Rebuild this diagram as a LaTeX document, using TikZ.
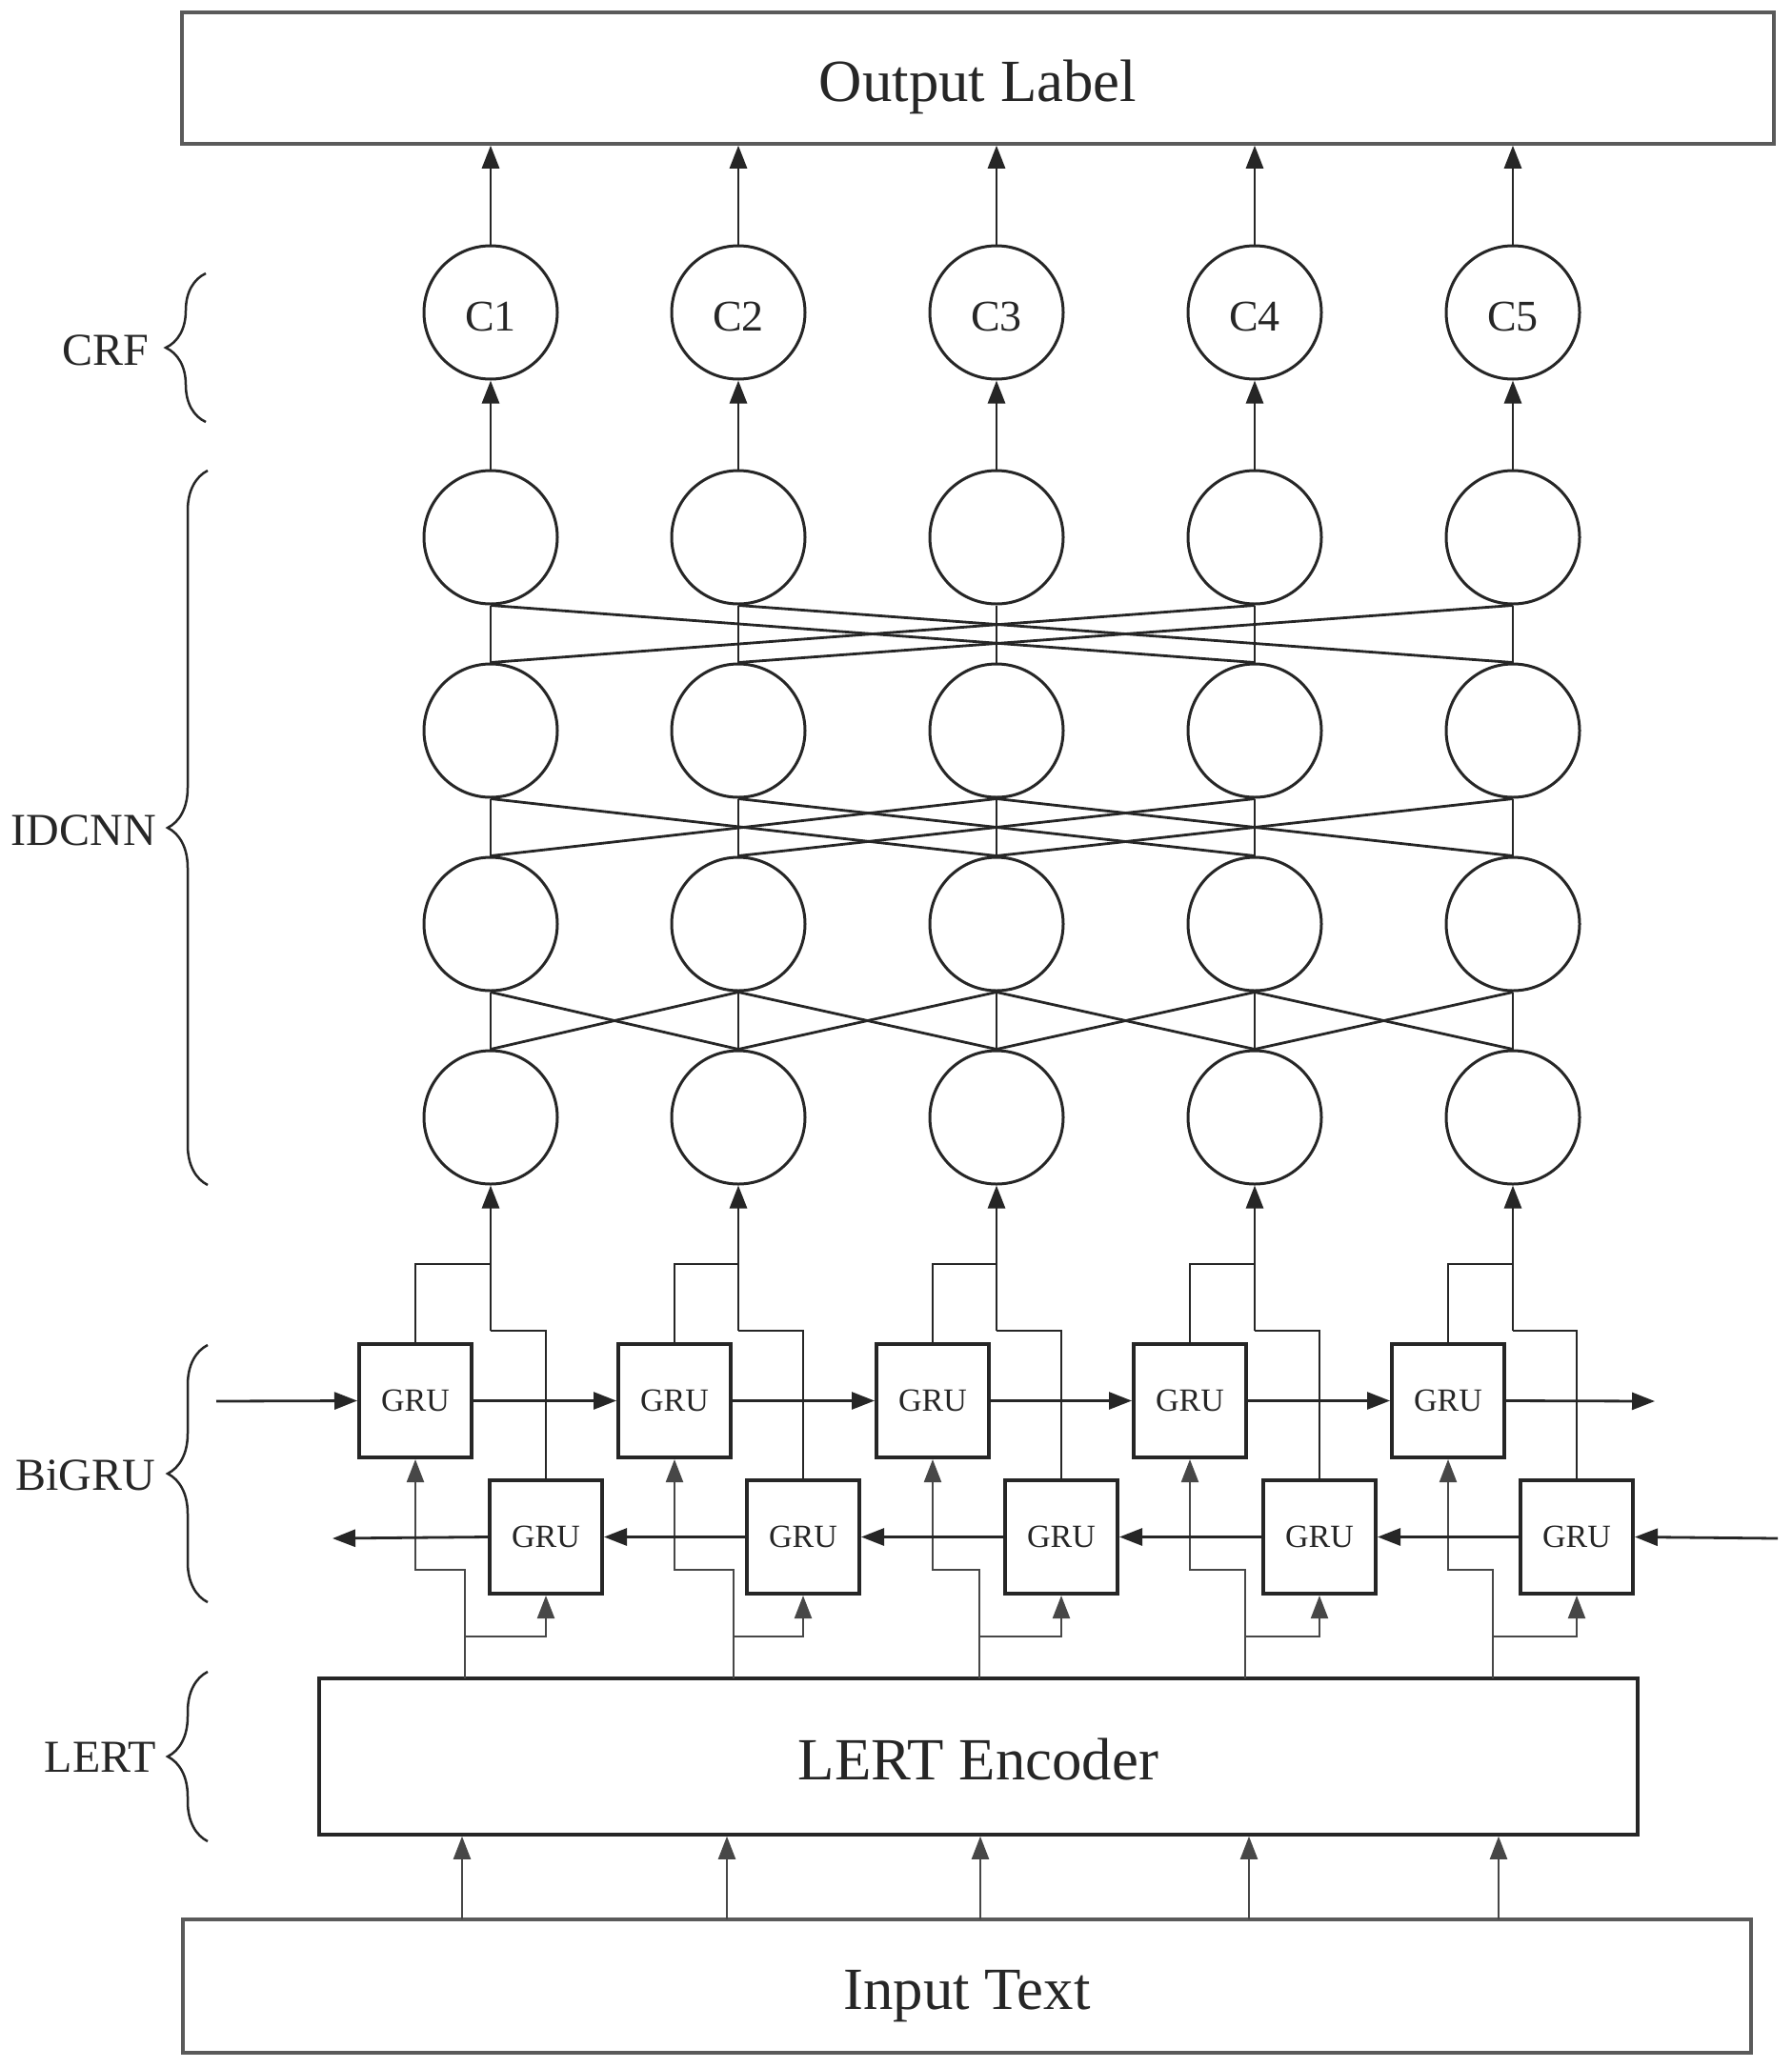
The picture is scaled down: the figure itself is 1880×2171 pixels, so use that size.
\documentclass[tikz,border=0pt]{standalone}
\usepackage{fontspec}
\setmainfont{Liberation Serif}
\usetikzlibrary{arrows.meta,decorations.pathreplacing}
\definecolor{ln}{HTML}{262626}
\definecolor{bx}{HTML}{5A5A5A}
\begin{document}
\begin{tikzpicture}[x=1pt,y=-1pt,
  bigbox/.style={draw=bx, line width=3.5pt, inner sep=0pt, text=ln, text height=49pt, text depth=0pt, font=\fontsize{62.8}{70}\selectfont},
  lertbox/.style={draw=ln, line width=3.5pt, inner sep=0pt, text=ln, text height=49pt, text depth=0pt, font=\fontsize{62.8}{70}\selectfont},
  neuron/.style={circle, draw=ln, line width=3pt, minimum size=140pt, inner sep=0pt, text=ln, text height=38pt, text depth=0pt, font=\fontsize{46}{50}\selectfont},
  grubox/.style={draw=ln, line width=4pt, minimum width=118pt, minimum height=119pt, inner sep=0pt, text=ln, font=\fontsize{34}{40}\selectfont},
  conn/.style={draw=ln, line width=2.8pt},
  arr/.style={conn, -{Triangle[length=24pt,width=18pt]}},
  thinarr/.style={draw=ln!85!white, line width=2.2pt, -{Triangle[length=24pt,width=18pt]}},
  brc/.style={draw=ln, line width=2.5pt, decorate, decoration={brace, amplitude=42pt}},
  side/.style={anchor=east, inner sep=0pt, text=ln, font=\fontsize{48}{54}\selectfont}
]
\useasboundingbox (0,0) rectangle (1880,2171);

% big boxes
\node[bigbox, minimum width=1671pt, minimum height=138pt] (out) at (1026.5,82) {Output Label};
\node[lertbox, minimum width=1384pt, minimum height=164pt] (lert) at (1027,1844) {LERT Encoder};
\node[bigbox, minimum width=1646pt, minimum height=140pt] (inp) at (1015,2085) {Input Text};

% columns
\foreach \i/\x/\ux/\lx/\px/\ix in {1/515/436/573/488/485, 2/775/708/843/770/763, 3/1046/979/1114/1028/1029, 4/1317/1249/1385/1307/1311, 5/1588/1520/1655/1567/1573}{
  \node[neuron] (c\i) at (\x,328) {C\i};
  \node[neuron] (r1c\i) at (\x,564) {};
  \node[neuron] (r2c\i) at (\x,767) {};
  \node[neuron] (r3c\i) at (\x,970) {};
  \node[neuron] (r4c\i) at (\x,1173) {};
  \draw[arr] (c\i.north) -- (out.south -| c\i.north);
  \draw[arr] (r1c\i.north) -- (c\i.south);
  \draw[conn] (r1c\i.south) -- (r2c\i.north);
  \draw[conn] (r2c\i.south) -- (r3c\i.north);
  \draw[conn] (r3c\i.south) -- (r4c\i.north);
  % GRU cells
  \node[grubox] (u\i) at (\ux,1470.5) {GRU};
  \node[grubox] (l\i) at (\lx,1613.5) {GRU};
  % outputs of GRUs merged to IDCNN
  \coordinate (j\i) at (\x,1327);
  \coordinate (k\i) at (\x,1397);
  \draw[conn] (u\i.north) |- (j\i);
  \draw[conn] (l\i.north) |- (k\i);
  \draw[arr] (k\i) -- (r4c\i.south);
  % LERT outputs to GRUs
  \coordinate (a\i) at (\px,1762);
  \coordinate (b\i) at (\px,1648);
  \coordinate (d\i) at (\px,1718);
  \draw[thinarr] (a\i) -- (b\i) -| (u\i.south);
  \draw[thinarr] (d\i) -| (l\i.south);
  % input to LERT
  \coordinate (e\i) at (\ix,2015);
  \draw[thinarr] (e\i) -- (e\i |- lert.south);
}

% IDCNN dilated connections
\foreach \a/\b in {1/4,2/5,4/1,5/2}{\draw[conn] (r1c\a.south) -- (r2c\b.north);}
\foreach \a/\b in {1/3,2/4,3/5,3/1,4/2,5/3}{\draw[conn] (r2c\a.south) -- (r3c\b.north);}
\foreach \a/\b in {1/2,2/3,3/4,4/5,2/1,3/2,4/3,5/4}{\draw[conn] (r3c\a.south) -- (r4c\b.north);}

% recurrent arrows
\coordinate (fin) at (227,1471);
\coordinate (fout) at (1737,1471);
\coordinate (bin) at (1866,1615);
\coordinate (bout) at (349,1615);
\draw[arr] (fin) -- (u1.west);
\foreach \i/\j in {1/2,2/3,3/4,4/5}{\draw[arr] (u\i.east) -- (u\j.west);}
\draw[arr] (u5.east) -- (fout);
\draw[arr] (bin) -- (l5.east);
\foreach \i/\j in {1/2,2/3,3/4,4/5}{\draw[arr] (l\j.west) -- (l\i.east);}
\draw[arr] (l1.west) -- (bout);

% braces and layer labels
\draw[brc] (216,443) -- (216,287);
\node[side] (lcrf) at (156,368) {CRF};
\draw[brc] (218,1244) -- (218,494);
\node[side] (lidc) at (164,872) {IDCNN};
\draw[brc] (218,1682) -- (218,1412);
\node[side] (lbig) at (163,1549) {BiGRU};
\draw[brc] (218,1933) -- (218,1755);
\node[side] (llert) at (164,1845) {LERT};
\end{tikzpicture}
\end{document}
